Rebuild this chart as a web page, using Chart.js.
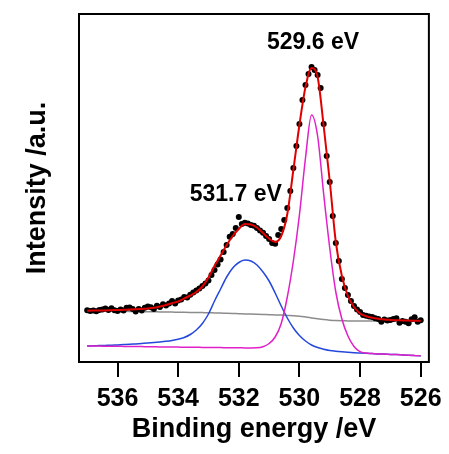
<!DOCTYPE html>
<html>
<head>
<meta charset="utf-8">
<script src="https://cdn.jsdelivr.net/npm/chart.js@4"></script>
<style>
  body { margin: 0; background: #fff; }
  #wrap { width: 449px; height: 454px; }
</style>
</head>
<body>
<div id="wrap"><canvas id="myChart" width="449" height="454"></canvas></div>
<script>
"use strict";

// Measured points (binding energy, eV) every 0.1 eV
const dataEnergy = [
  537.0, 536.9, 536.8, 536.7, 536.6, 536.5, 536.4, 536.3, 536.2, 536.1,
  536.0, 535.9, 535.8, 535.7, 535.6, 535.5, 535.4, 535.3, 535.2, 535.1,
  535.0, 534.9, 534.8, 534.7, 534.6, 534.5, 534.4, 534.3, 534.2, 534.1,
  534.0, 533.9, 533.8, 533.7, 533.6, 533.5, 533.4, 533.3, 533.2, 533.1,
  533.0, 532.9, 532.8, 532.7, 532.6, 532.5, 532.4, 532.3, 532.2, 532.1,
  532.0, 531.9, 531.8, 531.7, 531.6, 531.5, 531.4, 531.3, 531.2, 531.1,
  531.0, 530.9, 530.8, 530.7, 530.6, 530.5, 530.4, 530.3, 530.2, 530.1,
  530.0, 529.9, 529.8, 529.7, 529.6, 529.5, 529.4, 529.3, 529.2, 529.1,
  529.0, 528.9, 528.8, 528.7, 528.6, 528.5, 528.4, 528.3, 528.2, 528.1,
  528.0, 527.9, 527.8, 527.7, 527.6, 527.5, 527.4, 527.3, 527.2, 527.1,
  527.0, 526.9, 526.8, 526.7, 526.6, 526.5, 526.4, 526.3, 526.2, 526.1, 526.0
];
const dataCounts = [
  51.8, 50.9, 51.6, 50.7, 51.9, 52.6, 53.4, 52.1, 53.7, 51.8,
  50.9, 52.4, 51.5, 54.3, 54.6, 53.1, 50.6, 52.9, 51.4, 54.2,
  55.4, 54.8, 53.1, 56.2, 55.0, 57.8, 56.4, 58.5, 60.9, 58.6,
  61.4, 62.6, 64.9, 64.5, 67.2, 69.5, 71.4, 73.5, 76.1, 78.5,
  81.5, 87.0, 92.0, 97.5, 102.5, 110.0, 117.0, 125.3, 128.0, 134.0,
  145.0, 138.0, 139.2, 138.4, 137.0, 136.3, 134.1, 131.5, 129.2, 126.0,
  123.1, 119.0, 118.2, 127.0, 133.0, 142.0, 154.0, 171.0, 194.0, 216.0,
  238.0, 262.0, 277.0, 288.0, 295.0, 292.0, 287.0, 274.0, 238.0, 206.0,
  180.0, 146.0, 119.0, 101.0, 83.0, 74.0, 67.0, 61.0, 56.0, 52.5,
  50.0, 47.0, 46.2, 45.6, 44.9, 43.8, 42.9, 40.3, 42.5, 41.6,
  42.0, 43.1, 43.7, 39.3, 41.0, 40.2, 38.7, 42.7, 44.7, 40.3, 41.8
];

// Fitted curves, every 0.2 eV
const fitEnergy = [
  537.0, 536.8, 536.6, 536.4, 536.2, 536.0, 535.8, 535.6, 535.4, 535.2,
  535.0, 534.8, 534.6, 534.4, 534.2, 534.0, 533.8, 533.6, 533.4, 533.2,
  533.0, 532.8, 532.6, 532.4, 532.2, 532.0, 531.8, 531.6, 531.4, 531.2,
  531.0, 530.8, 530.6, 530.4, 530.2, 530.0, 529.8, 529.6, 529.4, 529.2,
  529.0, 528.8, 528.6, 528.4, 528.2, 528.0, 527.8, 527.6, 527.4, 527.2,
  527.0, 526.8, 526.6, 526.4, 526.2, 526.0
];
const envelope = [
  51.3, 51.4, 51.5, 51.6, 51.8, 52.0, 52.2, 52.4, 52.7, 53.1,
  53.5, 54.2, 55.5, 57.0, 58.8, 60.5, 63.5, 66.5, 70.0, 75.5,
  84.5, 96.0, 106.5, 117.0, 126.0, 133.0, 138.0, 137.5, 134.5, 129.0,
  123.5, 120.0, 126.0, 148.0, 192.0, 237.0, 275.0, 294.0, 285.0, 236.0,
  181.0, 120.0, 86.0, 66.0, 55.0, 48.5, 45.8, 44.2, 43.2, 42.5,
  42.1, 41.8, 41.6, 41.4, 41.3, 41.2
];
const peak5317 = [
  16.0, 16.2, 16.4, 16.6, 16.8, 17.1, 17.4, 17.7, 18.1, 18.5,
  18.9, 19.4, 20.0, 20.7, 21.6, 22.8, 24.5, 27.5, 32.0, 38.5,
  48.0, 61.0, 73.0, 85.0, 94.0, 99.5, 102.0, 101.0, 97.0, 90.0,
  81.0, 69.0, 56.0, 44.0, 34.0, 26.5, 21.0, 17.0, 14.5, 12.8,
  11.6, 10.8, 10.2, 9.7, 9.3, 9.0, 8.7, 8.4, 8.1, 7.9,
  7.6, 7.4, 7.1, 6.8, 6.5, 6.2
];
const peak5296 = [
  16.0, 15.9, 15.9, 15.8, 15.7, 15.7, 15.6, 15.5, 15.5, 15.4,
  15.3, 15.2, 15.1, 15.1, 15.0, 14.9, 14.8, 14.8, 14.7, 14.6,
  14.5, 14.5, 14.4, 14.3, 14.2, 14.2, 14.1, 14.1, 14.2, 15.3,
  18.5, 25.0, 38.5, 65.0, 101.0, 147.0, 204.0, 247.0, 226.0, 168.0,
  114.0, 70.0, 43.0, 26.0, 15.5, 10.3, 8.9, 8.4, 8.1, 7.9,
  7.6, 7.4, 7.1, 6.8, 6.5, 6.2
];
const background = [
  51.0, 51.0, 50.9, 50.9, 50.8, 50.8, 50.7, 50.6, 50.5, 50.4,
  50.3, 50.2, 50.1, 50.0, 49.9, 49.8, 49.7, 49.6, 49.5, 49.4,
  49.3, 49.1, 48.9, 48.7, 48.5, 48.3, 48.1, 47.9, 47.7, 47.5,
  47.3, 47.1, 46.9, 46.6, 46.3, 45.8, 45.0, 44.1, 43.2, 42.4,
  41.8, 41.4, 41.2, 41.1, 41.0, 41.0, 41.0, 41.0, 41.0, 41.0,
  41.0, 41.0, 41.0, 41.0, 41.0, 41.0
];

const xTicks = [536, 534, 532, 530, 528, 526];
const peakNames = ["531.7 eV", "529.6 eV"];
const peakLabelAt = [[532.1, 167], [529.55, 319]];

const FONT = "'Liberation Sans', Arial, sans-serif";

const toPoints = (xs, ys) => xs.map((x, i) => ({ x: x, y: ys[i] }));

const curve = (data, color, width, order) => ({
  data: data,
  borderColor: color,
  borderWidth: width,
  pointRadius: 0,
  cubicInterpolationMode: "monotone",
  fill: false,
  order: order,
});

// Box round the plot area
const framePlugin = {
  id: "frame",
  afterDraw(chart) {
    const { ctx, chartArea: a } = chart;
    ctx.save();
    ctx.strokeStyle = "#000";
    ctx.lineWidth = 2;
    ctx.strokeRect(a.left, a.top, a.right - a.left, a.bottom - a.top);
    ctx.restore();
  },
};

// Peak position labels
const peakLabelPlugin = {
  id: "peakLabels",
  afterDatasetsDraw(chart) {
    const { ctx, scales } = chart;
    ctx.save();
    ctx.font = "bold 23px " + FONT;
    ctx.fillStyle = "#000";
    ctx.textAlign = "center";
    ctx.textBaseline = "middle";
    peakNames.forEach((t, i) => {
      ctx.fillText(
        t,
        scales.x.getPixelForValue(peakLabelAt[i][0]),
        scales.y.getPixelForValue(peakLabelAt[i][1])
      );
    });
    ctx.restore();
  },
};

const ctx = document.getElementById("myChart").getContext("2d");

new Chart(ctx, {
  type: "line",
  data: {
    datasets: [
      curve(toPoints(fitEnergy, envelope), "#e00000", 2, 0),
      {
        data: toPoints(dataEnergy, dataCounts),
        showLine: false,
        pointRadius: 3,
        pointBackgroundColor: "#000",
        pointBorderWidth: 0,
        order: 1,
      },
      curve(toPoints(fitEnergy, peak5296), "#e020c8", 1.5, 2),
      curve(toPoints(fitEnergy, peak5317), "#2448dc", 1.5, 3),
      curve(toPoints(fitEnergy, background), "#8c8c8c", 1.5, 4),
    ],
  },
  options: {
    responsive: false,
    devicePixelRatio: 1,
    animation: false,
    layout: { padding: { top: 14, right: 19, left: 0, bottom: 0 } },
    scales: {
      x: {
        type: "linear",
        reverse: true,
        min: 525.73,
        max: 537.27,
        afterFit: (s) => { s.height = 92; },
        afterBuildTicks: (s) => { s.ticks = xTicks.map((v) => ({ value: v })); },
        border: { display: false },
        grid: {
          drawOnChartArea: false,
          drawTicks: true,
          tickLength: 15,
          color: "#000",
          lineWidth: 2,
        },
        ticks: {
          color: "#000",
          padding: 7,
          maxRotation: 0,
          font: { family: FONT, size: 25, weight: "bold" },
        },
        title: {
          display: true,
          text: "Binding energy /eV",
          color: "#000",
          padding: { bottom: 8 },
          font: { family: FONT, size: 27, weight: "bold" },
        },
      },
      y: {
        min: 0,
        max: 348,
        afterFit: (s) => { s.width = 79; },
        border: { display: false },
        grid: { display: false },
        ticks: { display: false },
        title: {
          display: true,
          text: "Intensity /a.u.",
          color: "#000",
          padding: { top: 21 },
          font: { family: FONT, size: 27, weight: "bold" },
        },
      },
    },
    plugins: {
      legend: { display: false },
      tooltip: { enabled: false },
    },
  },
  plugins: [framePlugin, peakLabelPlugin],
});
</script>
</body>
</html>
